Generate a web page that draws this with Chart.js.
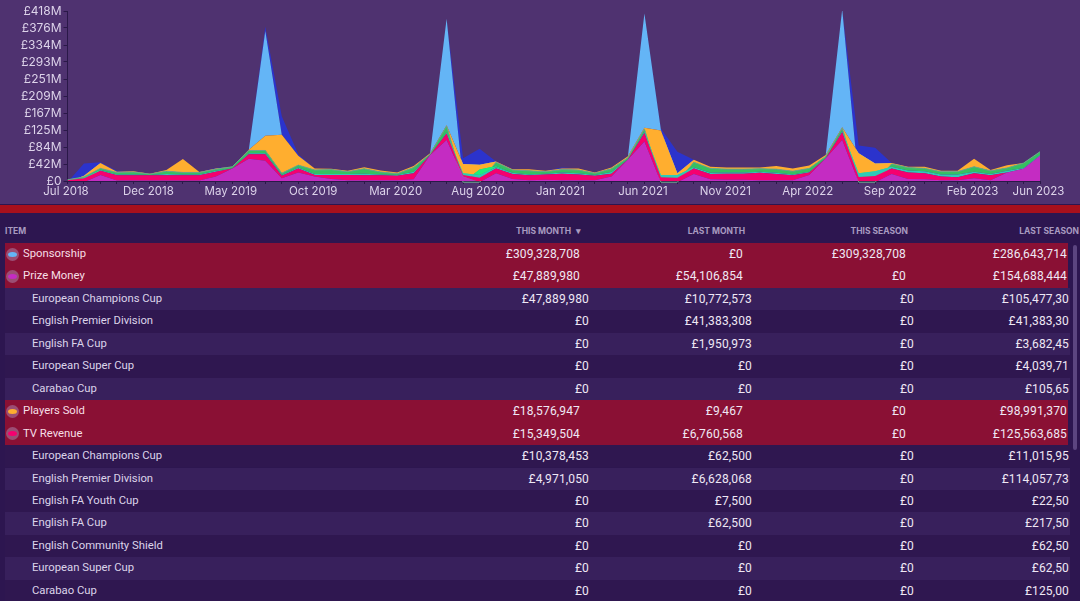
<!DOCTYPE html>
<html><head><meta charset="utf-8">
<style>
html,body{margin:0;padding:0;width:1080px;height:601px;overflow:hidden;background:#2d1650;font-family:Roboto,sans-serif}
#top{position:absolute;left:0;top:0;width:1080px;height:204px;background:#4f3270}
#chartBox{position:absolute;left:0;top:0;width:1080px;height:204px}
#band{position:absolute;left:0;top:205px;width:1080px;height:8px;background:#a8101c}
#tbl{position:absolute;left:0;top:213px;width:1080px;height:388px;background:#2d1650;overflow:hidden}
.row{position:absolute;height:22.45px}
.c{position:absolute;white-space:nowrap;color:#efe8f5;font-size:12px;letter-spacing:.15px;line-height:22.45px;text-align:right}
.h{position:absolute;white-space:nowrap;color:#a99bc0;font-family:Inter,sans-serif;font-size:8px;font-weight:700;line-height:12px;text-align:right}
.ic{position:absolute;left:6px;width:13px;height:13px;border-radius:50%;background:rgba(170,130,170,.55)}
.ic i{position:absolute;left:2px;top:4px;width:9px;height:5px;border-radius:50%;display:block}
#sb{position:absolute;left:1073px;top:245px;width:4px;height:205px;background:#5c4580;border-radius:2px}
</style></head><body>
<div id="top"><div id="chartBox"><canvas id="c"></canvas></div></div>
<div id="band"></div>
<div id="tbl"></div>
<div id="sb"></div>
<script src="https://cdn.jsdelivr.net/npm/chart.js@4"></script>
<script>
const months = ["Jul 2018","Aug 2018","Sep 2018","Oct 2018","Nov 2018","Dec 2018","Jan 2019","Feb 2019","Mar 2019","Apr 2019","May 2019","Jun 2019","Jul 2019","Aug 2019","Sep 2019","Oct 2019","Nov 2019","Dec 2019","Jan 2020","Feb 2020","Mar 2020","Apr 2020","May 2020","Jun 2020","Jul 2020","Aug 2020","Sep 2020","Oct 2020","Nov 2020","Dec 2020","Jan 2021","Feb 2021","Mar 2021","Apr 2021","May 2021","Jun 2021","Jul 2021","Aug 2021","Sep 2021","Oct 2021","Nov 2021","Dec 2021","Jan 2022","Feb 2022","Mar 2022","Apr 2022","May 2022","Jun 2022","Jul 2022","Aug 2022","Sep 2022","Oct 2022","Nov 2022","Dec 2022","Jan 2023","Feb 2023","Mar 2023","Apr 2023","May 2023","Jun 2023"];
const yTicks = [0,41.8,83.6,125.4,167.2,209,250.8,292.6,334.4,376.2,418];

// Values in £ millions
const prizeRefund = [-3,-3,0,0,0,0,0,0,0,0,0,0,0,0,0,0,0,0,0,0,0,0,0,0,-3,-3,0,0,0,0,0,0,0,0,0,0,-3,-3,0,0,0,0,0,0,0,0,0,0,-3,-3,0,0,0,0,0,0,0,0,0,0];
const prizeMoney = [0,0,15,1,1,1,1,1,1,11,31,55,50,7,21,11,5,2,2,2,2,4,64,101,11,0,19,5,2,3,2,2,2,11,53,97,0,0,17,4,3,3,2,2,2,15,56,101,0,0,17,5,4,2,2,7,2,21,30,62];
const tvRevenue = [2,7,10,13,13,13,13,13,13,12,0,11,16,6,10,4,10,13,12,12,11,15,0,16,4,8,12,12,12,13,16,14,11,7,0,21,9,8,14,13,15,15,18,15,12,6,0,19,10,12,14,16,15,9,7,12,12,0,0,0];
const teal = [0,1,2,2,2,1,3,2,2,2,0,2,2,2,2,2,2,2,4,2,2,4,0,2,4,7,3,3,2,2,3,3,2,4,0,3,6,7,3,3,3,3,3,3,2,2,0,3,9,12,4,5,5,5,7,4,3,4,2,2];
const lime = [0,0,0,0,0,0,0,0,0,0,0,0,0,0,0,0,0,0,0,0,0,0,0,0,0,13,3,0,0,0,0,0,0,0,0,0,0,0,0,0,0,0,0,0,0,0,0,0,0,0,0,0,0,0,0,0,0,0,0,0];
const green = [1,2,4,5,6,2,7,5,5,4,4,7,7,4,6,10,11,6,12,6,3,10,2,16,0,0,9,7,9,5,7,8,4,8,4,7,0,0,12,11,8,8,7,9,8,8,4,7,0,0,7,7,7,7,7,12,8,7,12,8];
const playersSold = [0,3,13,2,2,1,3,33,1,2,0,2,36,95,23,4,2,2,4,4,3,4,2,2,23,12,2,2,4,2,3,4,2,3,4,3,109,4,6,4,4,4,3,8,7,7,4,2,49,19,2,2,4,2,2,20,2,7,0,0];
const sponsorship = [0,0,0,0,0,0,0,0,0,0,0,0,258,0,0,0,0,0,0,0,0,0,0,262,0,0,0,0,0,0,0,0,0,0,0,281,2,0,0,0,0,0,0,0,0,0,0,290,0,0,0,0,0,0,0,0,0,0,0,0];
const otherIncome = [0,30,2,2,0,0,0,0,0,1,0,0,10,45,4,0,0,0,0,0,0,0,0,0,14,39,0,0,0,0,2,0,0,0,0,0,3,53,0,0,0,0,0,0,0,0,0,0,19,39,0,0,0,0,0,0,0,0,0,0];

const headerLabels = ["ITEM","THIS MONTH","▾","LAST MONTH","THIS SEASON","LAST SEASON"];
const rowItems = ["Sponsorship","Prize Money","European Champions Cup","English Premier Division","English FA Cup","European Super Cup","Carabao Cup","Players Sold","TV Revenue","European Champions Cup","English Premier Division","English FA Youth Cup","English FA Cup","English Community Shield","European Super Cup","Carabao Cup"];
const rowThisMonth = ["£309,328,708","£47,889,980","£47,889,980","£0","£0","£0","£0","£18,576,947","£15,349,504","£10,378,453","£4,971,050","£0","£0","£0","£0","£0"];
const rowLastMonth = ["£0","£54,106,854","£10,772,573","£41,383,308","£1,950,973","£0","£0","£9,467","£6,760,568","£62,500","£6,628,068","£7,500","£62,500","£0","£0","£0"];
const rowThisSeason = ["£309,328,708","£0","£0","£0","£0","£0","£0","£0","£0","£0","£0","£0","£0","£0","£0","£0"];
const rowLastSeason = ["£286,643,714","£154,688,444","£105,477,30","£41,383,30","£3,682,45","£4,039,71","£105,65","£98,991,370","£125,563,685","£11,015,95","£114,057,73","£22,50","£217,50","£62,50","£62,50","£125,00"];
const parentIcons = {0:"#64b5f6",1:"#c42cc2",7:"#ffae2f",8:"#f5006f"};

const tbl = document.getElementById('tbl');
const rowTop = 243-213, rowH = 22.45;
function put(cls,txt,left,right,top,extra){
  const d=document.createElement('div');d.className=cls;d.textContent=txt;
  if(left!=null)d.style.left=left+'px';
  if(right!=null)d.style.right=(1080-right)+'px';
  d.style.top=top+'px';
  if(extra)Object.assign(d.style,extra);
  tbl.appendChild(d);return d;
}
const hs={fontSize:'8.5px'};
put('h',headerLabels[0],5,null,12,hs);
put('h',headerLabels[1],null,571,12,hs);
put('h',headerLabels[2],576,null,12,{fontSize:'9px'});
put('h',headerLabels[3],null,745,12,hs);
put('h',headerLabels[4],null,908,12,hs);
put('h',headerLabels[5],null,1079,12,hs);
rowItems.forEach((name,i)=>{
  const parent = i in parentIcons;
  const y=rowTop+i*rowH;
  const bg=document.createElement('div');bg.className='row';
  bg.style.cssText+=`left:5px;width:${parent?1063:1065}px;top:${y}px;background:${parent?'#8a1034':(i%2==0?'#38205c':'#2f1750')}`;
  tbl.appendChild(bg);
  put('c',name,parent?23:32,null,y,{textAlign:'left',letterSpacing:'0',fontSize:'11.3px',color:parent?'#f6dfe6':'#dcd4ea'});
  put('c',rowThisMonth[i],null,parent?580:589,y);
  put('c',rowLastMonth[i],null,parent?743:752,y);
  put('c',rowThisSeason[i],null,parent?906:914,y);
  put('c',rowLastSeason[i],null,parent?1067:1069,y);
  if(parent){
    const ic=document.createElement('div');ic.className='ic';ic.style.top=(y+4.7)+'px';
    const k=document.createElement('i');k.style.background=parentIcons[i];ic.appendChild(k);tbl.appendChild(ic);
  }
});

const C_TICK='#2a1848', C_TXT='#ddd3ea';
const ds=(label,data,color,fill,edge)=>({label,data,backgroundColor:color,borderColor:edge||color,borderWidth:edge?1:0,pointRadius:0,tension:0,fill,clip:false});
const labelIdx=[0,5,10,15,20,25,30,35,40,45,50,55,59];
new Chart(document.getElementById('c'),{
  type:'line',
  data:{labels:months,datasets:[
    ds('Prize refund',prizeRefund,'#c42cc2','origin'),
    ds('Prize Money',prizeMoney,'#c42cc2','origin'),
    ds('TV Revenue',tvRevenue,'#f5006f','-1'),
    ds('Gate',teal,'#2fc9b8','-1'),
    ds('Lime',lime,'#1ef07a','-1'),
    ds('Merch',green,'#35c15f','-1','#6aa88c'),
    ds('Players Sold',playersSold,'#ffae2f','-1'),
    ds('Sponsorship',sponsorship,'#64b5f6','-1'),
    ds('Other',otherIncome,'#2b33cc','-1')
  ]},
  options:{
    responsive:true,maintainAspectRatio:false,animation:false,
    layout:{padding:{left:0,right:40,top:11,bottom:0}},
    plugins:{legend:{display:false},tooltip:{enabled:false}},
    scales:{
      x:{stacked:true,offset:false,
        grid:{display:true,drawOnChartArea:false,drawTicks:true,tickLength:3,tickColor:C_TICK,color:C_TICK},
        border:{color:C_TICK,width:1},
        ticks:{autoSkip:false,maxRotation:0,minRotation:0,padding:1,labelOffset:-1.5,color:C_TXT,font:{family:'Inter',size:11.5},
          callback(v,i){return labelIdx.includes(i)?months[i]:'';}},
        afterFit(s){s.height=23;}
      },
      y:{stacked:true,min:0,max:418,
        afterBuildTicks(s){s.ticks=yTicks.map(value=>({value}));},
        grid:{display:true,drawOnChartArea:false,tickLength:4,tickColor:C_TICK,color:C_TICK},
        border:{color:C_TICK,width:1},
        ticks:{autoSkip:false,padding:2,color:C_TXT,font:{family:'Inter',size:12},
          callback(v){return v===0?'£0':'£'+Math.round(v)+'M';}},
        afterFit(s){s.width=67.5;}
      }
    }
  }
});
</script></body></html>
